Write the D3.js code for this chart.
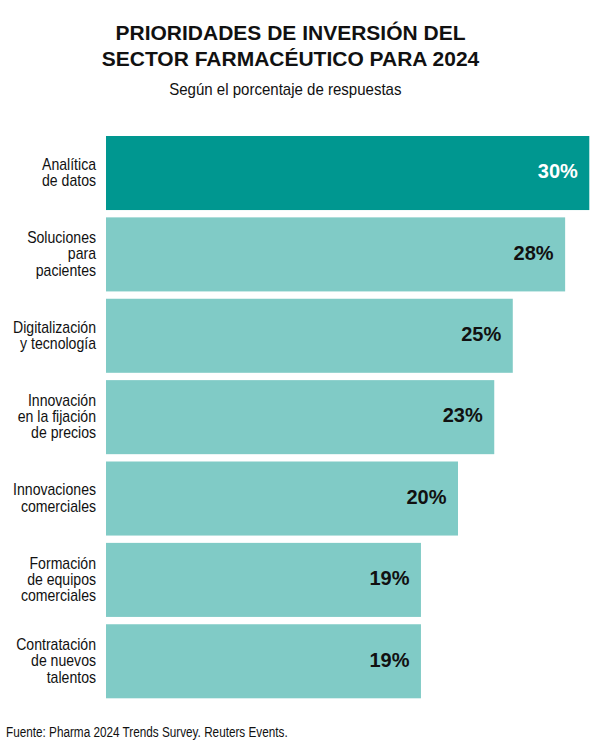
<!DOCTYPE html>
<html>
<head>
<meta charset="utf-8">
<script src="https://cdn.jsdelivr.net/npm/d3@7"></script>
<style>
  html, body { margin: 0; padding: 0; background: #fff; }
  svg { display: block; }
</style>
</head>
<body>
<svg id="chart" width="600" height="751"></svg>
<script>
// ---- Data ----
const categories = [
  ["Analítica", "de datos"],
  ["Soluciones", "para", "pacientes"],
  ["Digitalización", "y tecnología"],
  ["Innovación", "en la fijación", "de precios"],
  ["Innovaciones", "comerciales"],
  ["Formación", "de equipos", "comerciales"],
  ["Contratación", "de nuevos", "talentos"]
];
const labelValues = [30, 28, 25, 23, 20, 19, 19];                 // printed percentages
const barValues   = [30, 28.5, 25.25, 24.1, 21.85, 19.55, 19.55]; // bar lengths as drawn
const titleLines = ["PRIORIDADES DE INVERSIÓN DEL", "SECTOR FARMACÉUTICO PARA 2024"];
const subtitle = "Según el porcentaje de respuestas";
const source = "Fuente: Pharma 2024 Trends Survey. Reuters Events.";

const svg = d3.select("#chart");
const sans = "'Liberation Sans', Arial, Helvetica, sans-serif";
const narrowScale = 0.88; // condensed look

// Title (slightly widened bold)
const tg = svg.append("g").attr("transform", "translate(290.5,0) scale(1.05,1)");
tg.append("text")
  .attr("font-family", sans).attr("font-weight", "bold")
  .attr("font-size", 20).attr("text-anchor", "middle").attr("fill", "#111")
  .selectAll("tspan").data(titleLines).join("tspan")
  .attr("x", 0).attr("y", (d, i) => 40 + i * 25.7).text(d => d);

svg.append("g").attr("transform", "translate(285.3,0) scale(0.94,1)")
  .append("text")
  .attr("x", 0).attr("y", 95).attr("font-family", sans)
  .attr("font-size", 16).attr("text-anchor", "middle").attr("fill", "#111")
  .text(subtitle);

// Scales
const x = d3.scaleLinear().domain([0, 30]).range([106, 589.3]);
const y = d3.scaleBand().domain(d3.range(categories.length))
  .range([136, 698.3]).paddingInner(0.09).paddingOuter(0);

const rows = svg.append("g").selectAll("g").data(categories).join("g");

rows.append("rect")
  .attr("x", x(0))
  .attr("y", (d, i) => y(i))
  .attr("width", (d, i) => x(barValues[i]) - x(0))
  .attr("height", y.bandwidth())
  .attr("fill", (d, i) => i === 0 ? "#009790" : "#80CBC6");

rows.append("text")
  .attr("x", (d, i) => x(barValues[i]) - 11.5)
  .attr("y", (d, i) => y(i) + y.bandwidth() / 2 + 5.3)
  .attr("text-anchor", "end")
  .attr("font-family", sans).attr("font-weight", "bold").attr("font-size", 20)
  .attr("fill", (d, i) => i === 0 ? "#fff" : "#111")
  .text((d, i) => labelValues[i] + "%");

const lh = 16.3;
const labelG = svg.append("g").attr("transform", `translate(96,0) scale(${narrowScale},1)`);
labelG.selectAll("text").data(categories).join("text")
  .attr("text-anchor", "end")
  .attr("font-family", sans).attr("font-size", 16).attr("fill", "#111")
  .each(function (d, i) {
    const cy = y(i) + y.bandwidth() / 2;
    d3.select(this).selectAll("tspan").data(d).join("tspan")
      .attr("x", 0)
      .attr("y", (t, j) => cy + (j - (d.length - 1) / 2) * lh + 5)
      .text(t => t);
  });

svg.append("g").attr("transform", "translate(6,0) scale(0.81,1)")
  .append("text")
  .attr("x", 0).attr("y", 737.5).attr("font-family", sans)
  .attr("font-size", 14.5).attr("fill", "#111")
  .text(source);
</script>
</body>
</html>
